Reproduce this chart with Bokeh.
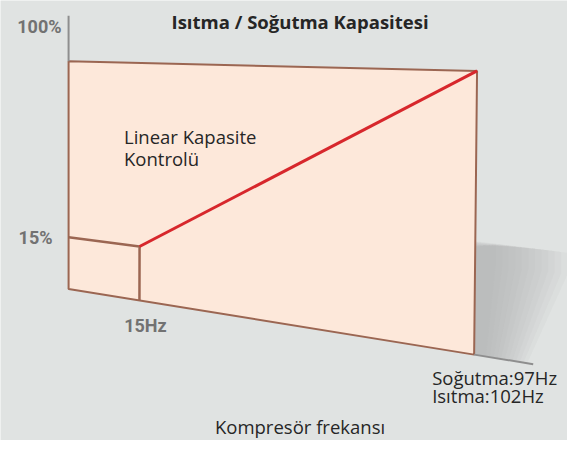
from bokeh.plotting import figure
from bokeh.models import Range1d
from bokeh.embed import file_html
from bokeh.resources import INLINE
from bokeh.core.properties import value

# ---------------- data ----------------
freq_axis_hz = [-3, 100]          # axis origin, maximum compressor frequency
cap_axis_pct = [-10, 100]         # axis origin, maximum capacity
min_point = [15, 15]              # (Hz, %) minimum operating point
max_point = [100, 100]            # (Hz, %) maximum operating point
cap_tick_labels = ["15%", "100%"]
freq_tick_labels = ["15Hz"]
max_freq_labels = ["Soğutma:97Hz", "Isıtma:102Hz"]
title_text = "Isıtma / Soğutma Kapasitesi"
xlabel_text = "Kompresör frekansı"
note_lines = ["Linear Kapasite", "Kontrolü"]

# ---------------- layout / style ----------------
W, H = 567, 440
REF_W, REF_H = 583, 456
BG = "#e0e3e2"
PANEL_FILL = "#fde8da"
EDGE = "#9b6652"
RED = "#d7272c"
AXIS_GREY = "#8e8e8e"
LABEL_GREY = "#727272"
DARK = "#262626"

# perspective panel corners (reference pixel space)
BL, TL, BR, TR = (70, 299), (70, 63), (487, 367), (490, 73)
F0, F1 = freq_axis_hz
C0, C1 = cap_axis_pct


def proj(f, c):
    u = (f - F0) / (F1 - F0)
    v = (c - C0) / (C1 - C0)
    bx = BL[0] + u * (BR[0] - BL[0])
    by = BL[1] + u * (BR[1] - BL[1])
    tx = TL[0] + u * (TR[0] - TL[0])
    ty = TL[1] + u * (TR[1] - TL[1])
    return bx + v * (tx - bx), by + v * (ty - by)


p = figure(width=W, height=H, x_range=Range1d(0, REF_W), y_range=Range1d(REF_H, 0),
           output_backend="svg", toolbar_location=None, min_border=0,
           background_fill_color=BG, border_fill_color=BG, outline_line_color=None)
p.axis.visible = False
p.grid.visible = False

# soft shadow behind the right edge (many faint layers for a smooth fade)
s0 = proj(F1, 34)
br = proj(F1, C0)
n_layers = 12
for i in range(n_layers):
    k = 1.0 - i * (0.85 / n_layers)
    p.patch([s0[0], s0[0] + 95 * k, s0[0] + 95 * k, br[0] + 55 * k, br[0]],
            [s0[1] + 8 * (1 - k), s0[1] + 12 * k, s0[1] + 12 * k + 22, br[1] + 8 * k, br[1]],
            fill_color="#a9adb0", fill_alpha=0.085, line_color=None)

# panel
corners = [proj(F0, C0), proj(F0, C1), proj(F1, C1), proj(F1, C0)]
p.patch([c[0] for c in corners], [c[1] for c in corners],
        fill_color=PANEL_FILL, line_color=EDGE, line_width=2)

# axis extensions (grey)
a0, a1 = proj(F0, C1), proj(F0, 122)
p.line([a0[0], a1[0]], [a0[1], a1[1]], line_color=AXIS_GREY, line_width=2)
b0, b1 = proj(F1, C0), proj(115, C0)
p.line([b0[0], b1[0]], [b0[1], b1[1]], line_color=AXIS_GREY, line_width=2)

# minimum step lines
m = min_point
pts = [proj(F0, m[1]), proj(m[0], m[1]), proj(m[0], C0)]
p.line([q[0] for q in pts], [q[1] for q in pts], line_color=EDGE, line_width=2.5)

# linear capacity line
r = [proj(*min_point), proj(*max_point)]
p.line([q[0] for q in r], [q[1] for q in r], line_color=RED, line_width=3)

# ---------------- texts ----------------
num_font = value("Roboto")
txt_font = value("Open Sans")

y15 = proj(F0, min_point[1])
ytop = proj(F0, 117)
p.text(x=[y15[0], ytop[0]], y=[y15[1], ytop[1]], text=cap_tick_labels,
       x_offset=[-16, -7], text_align="right", text_baseline="middle",
       text_font=num_font, text_font_size="18px", text_font_style="bold",
       text_color=LABEL_GREY)

fx = proj(min_point[0], C0)
p.text(x=[fx[0]], y=[fx[1]], text=freq_tick_labels, x_offset=[6], y_offset=[25],
       text_align="center", text_baseline="middle", text_font=num_font,
       text_font_size="18px", text_font_style="bold", text_color=LABEL_GREY)

mx = proj(max_point[0], C0)
p.text(x=[mx[0], mx[0]], y=[mx[1], mx[1]], text=max_freq_labels,
       x_offset=[-42, -42], y_offset=[23, 41], text_align="left",
       text_baseline="middle", text_font=txt_font, text_font_size="18.5px",
       text_color=DARK)

p.text(x=[127, 127], y=[141, 164], text=note_lines, text_align="left",
       text_baseline="middle", text_font=txt_font, text_font_size="18.5px",
       text_color=DARK)

p.text(x=[308], y=[22], text=[title_text], text_align="center",
       text_baseline="middle", text_font=txt_font, text_font_size="18.5px",
       text_font_style="bold", text_color=DARK)

p.text(x=[308], y=[442], text=[xlabel_text], text_align="center",
       text_baseline="middle", text_font=txt_font, text_font_size="18.5px",
       text_color=DARK)

open("out.html", "w").write(file_html(p, INLINE))
